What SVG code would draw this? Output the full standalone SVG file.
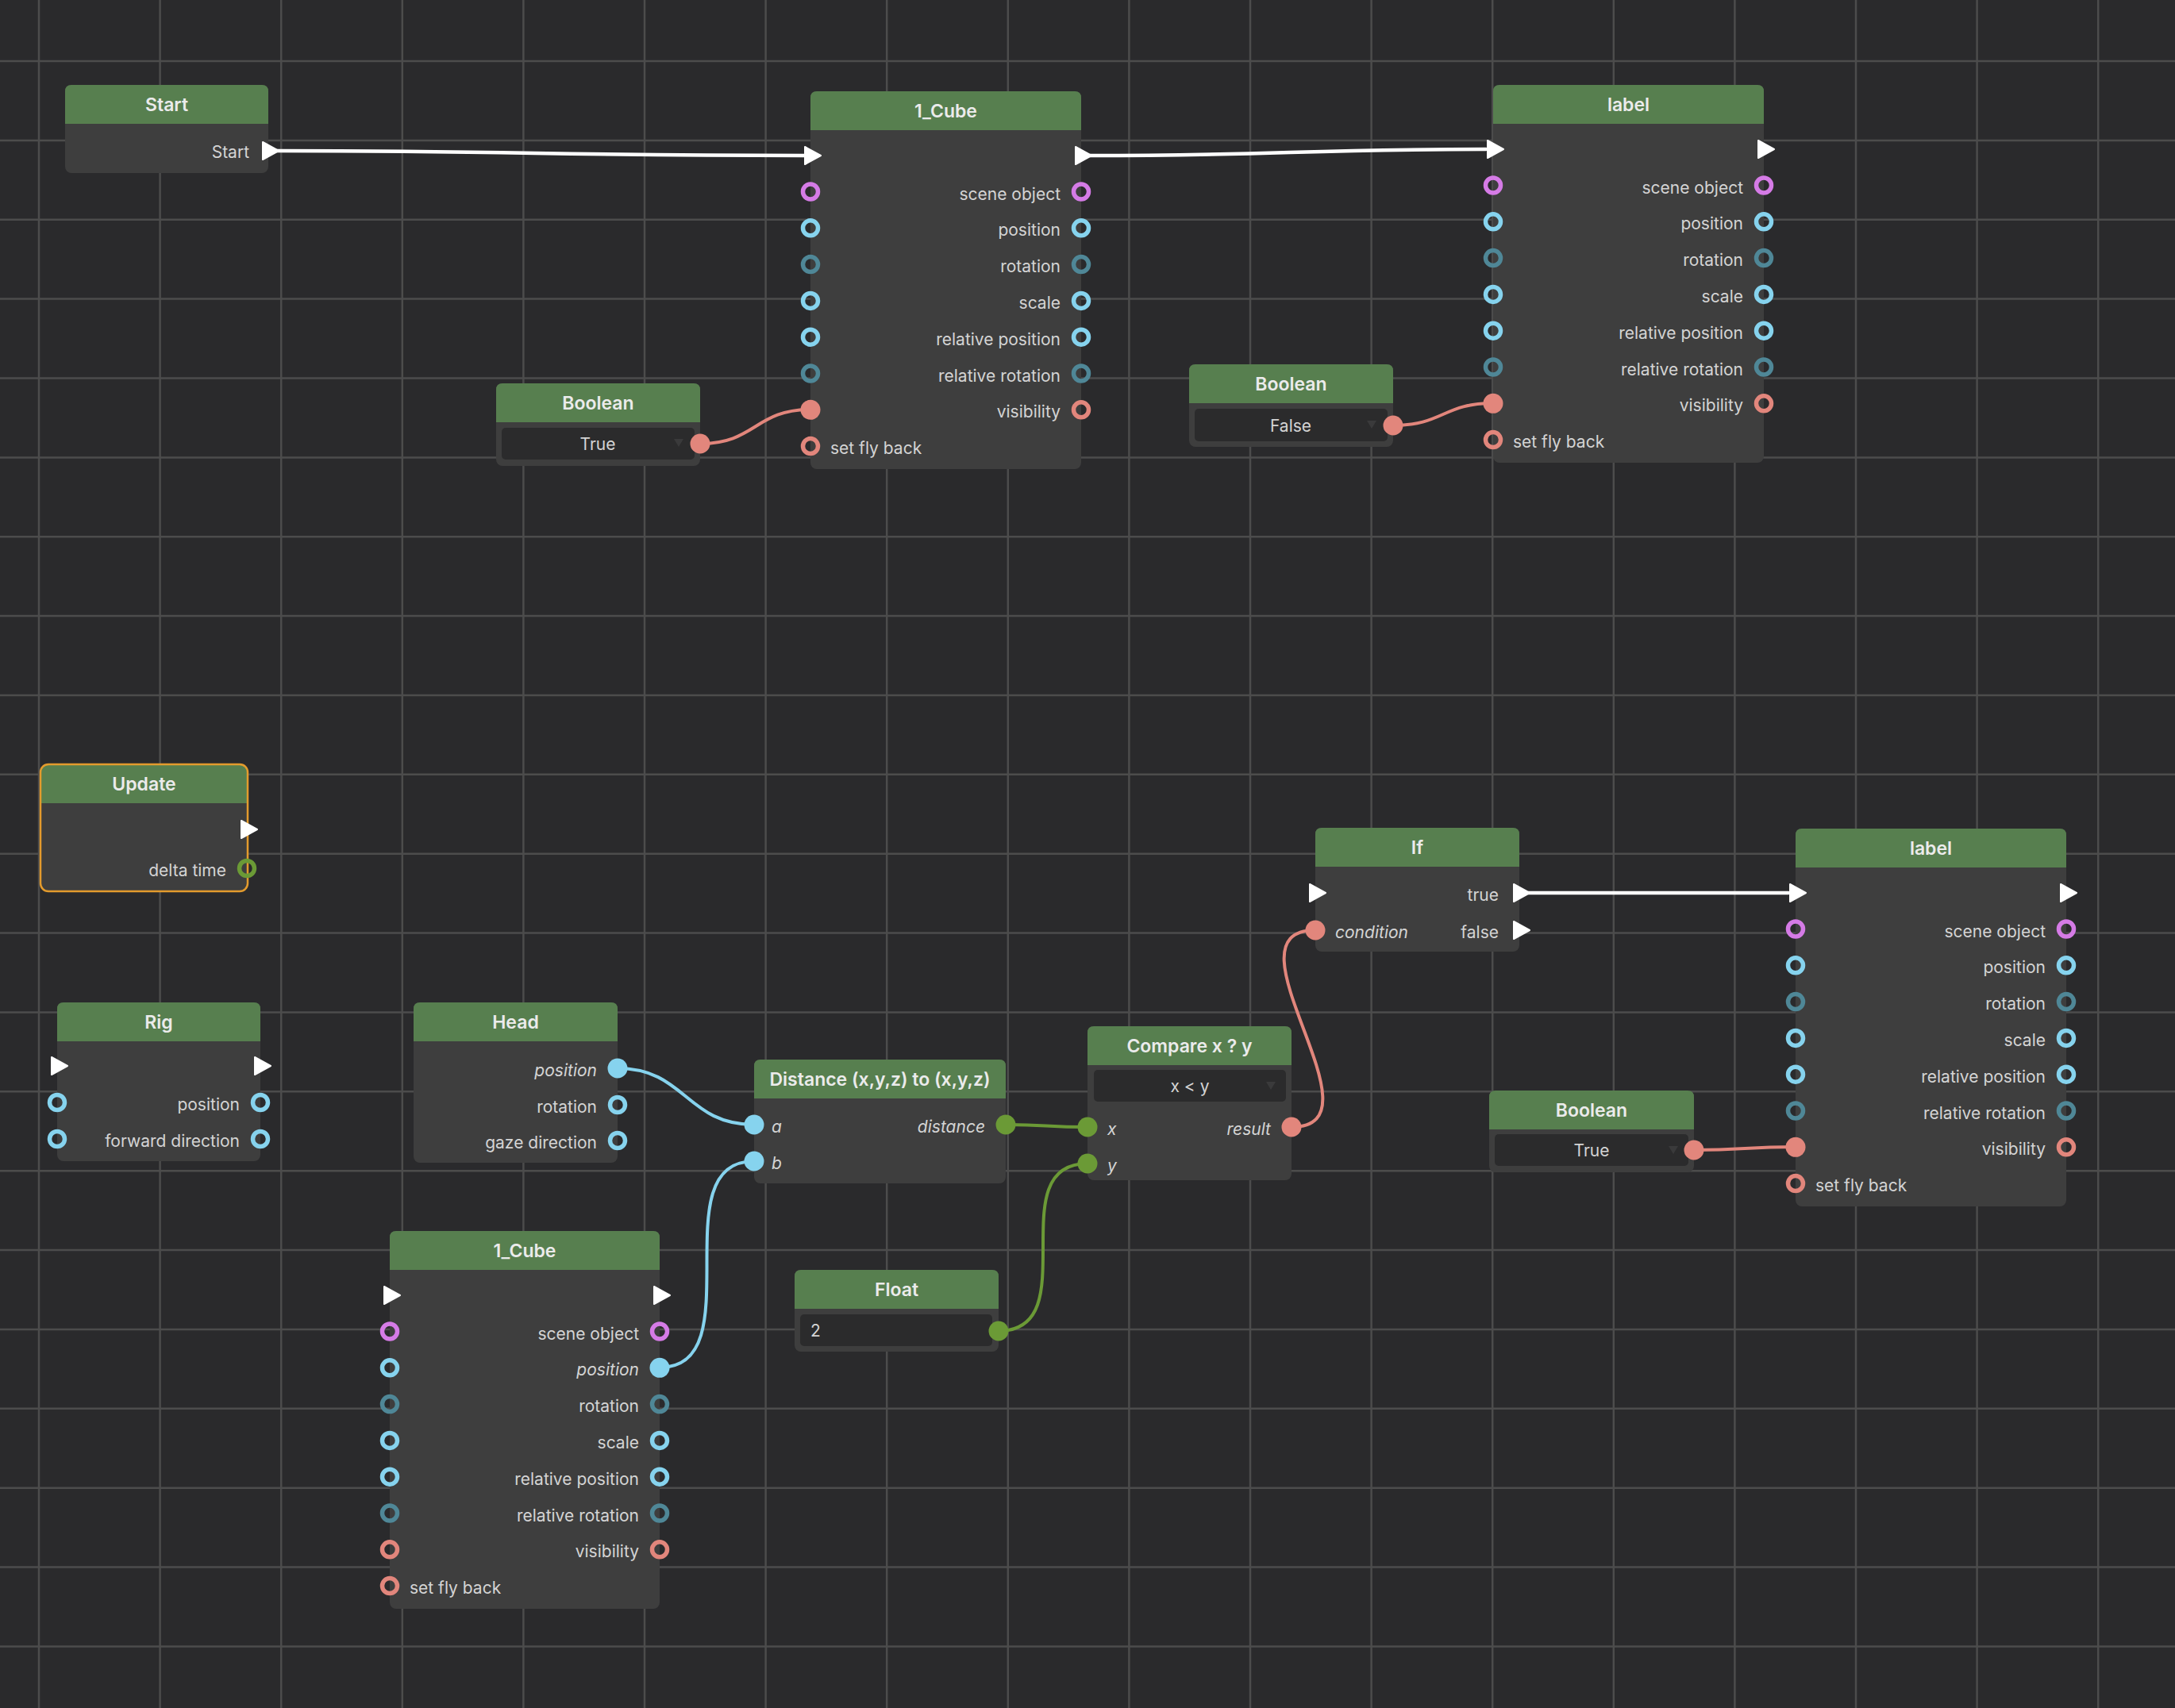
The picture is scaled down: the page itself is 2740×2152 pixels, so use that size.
<svg xmlns="http://www.w3.org/2000/svg" xmlns:xlink="http://www.w3.org/1999/xlink" width="2740" height="2152" viewBox="0 0 2740 2152">
<style>
.bg{fill:#2a2a2c}
.grid{stroke:#4c4c4c;stroke-width:2.5;fill:none}
.body{fill:#3e3e3e}
.hdr{fill:#577f4f}
.ht{font-family:Inter,"Liberation Sans",sans-serif;font-weight:600;font-size:23px;fill:#ebebeb;text-anchor:middle}
.t{font-family:Inter,"Liberation Sans",sans-serif;font-size:21px;fill:#d4d4d4}
.e{text-anchor:end}
.m{text-anchor:middle}
.i{font-style:italic}
.box{fill:#2b2b2c}
.dd{fill:#3a3a3b}
.ring{fill:none;stroke-width:5.5}
.pu{stroke:#d57be6}.lb{stroke:#86d3ee}.tl{stroke:#4f8797}.sa{stroke:#e2867c}.gr{stroke:#6b9a36}
.fpu{fill:#d57be6}.flb{fill:#86d3ee}.ftl{fill:#4f8797}.fsa{fill:#e2867c}.fgr{fill:#6b9a36}
.wire{fill:none;stroke-width:4;stroke-linecap:round}
.exw{fill:none;stroke:#ffffff;stroke-width:4.5;stroke-linecap:round}
.sel{fill:none;stroke:#e39b2d;stroke-width:2.5}
</style>
<defs>
<path id="tri" d="M-9,-11 L11,0 L-9,11 Z" fill="#ffffff" stroke="#ffffff" stroke-width="2" stroke-linejoin="round"/>
</defs>
<rect class="bg" x="0" y="0" width="2740" height="2152"/>
<g id="grid">
<path class="grid" d="M49 0V2152M201.6 0V2152M354.2 0V2152M506.8 0V2152M659.4 0V2152M812 0V2152M964.6 0V2152M1117.2 0V2152M1269.8 0V2152M1422.4 0V2152M1575 0V2152M1727.6 0V2152M1880.2 0V2152M2032.8 0V2152M2185.4 0V2152M2338 0V2152M2490.6 0V2152M2643.2 0V2152"/>
<path class="grid" d="M0 77H2740M0 176.9H2740M0 276.7H2740M0 376.6H2740M0 476.5H2740M0 576.4H2740M0 676.2H2740M0 776.1H2740M0 876H2740M0 975.8H2740M0 1075.7H2740M0 1175.6H2740M0 1275.4H2740M0 1375.3H2740M0 1475.2H2740M0 1575.1H2740M0 1674.9H2740M0 1774.8H2740M0 1874.7H2740M0 1974.5H2740M0 2074.4H2740"/>
</g>
<g id="connectors">
<path class="exw" d="M348 190 C650 190 700 196 1013 196"/>
<path class="exw" d="M1373 196 C1600 196 1650 188 1872 188"/>
<path class="exw" d="M1925 1125 C2100 1125 2080 1125 2253 1125"/>
<path class="wire sa" d="M882 559 C952 559 951 516 1021 516"/>
<path class="wire sa" d="M1755 536 C1818 536 1818 508 1881 508"/>
<path class="wire sa" d="M2134 1449 C2198 1449 2198 1445 2262 1445"/>
<path class="wire lb" d="M778 1346 C864 1346 864 1417 950 1417"/>
<path class="wire lb" d="M831 1723 C950 1723 831 1463 950 1463"/>
<path class="wire gr" d="M1267 1417 C1318 1417 1318 1420 1370 1420"/>
<path class="wire gr" d="M1258 1677 C1370 1677 1258 1466 1370 1466"/>
<path class="wire sa" d="M1627 1420 C1750 1420 1534 1172 1657 1172"/>
</g>
<g id="node-start">
<rect class="body" x="82" y="107" width="256" height="111" rx="8"/>
<path class="hdr" d="M82,156 V115 Q82,107 90,107 H330 Q338,107 338,115 V156 Z"/>
<text class="ht" x="210" y="140">Start</text>
<text class="t e" x="314" y="199">Start</text>
<use href="#tri" x="340" y="190"/>
</g>
<g id="node-cube-1">
<rect class="body" x="1021" y="115" width="341" height="476" rx="8"/>
<path class="hdr" d="M1021,164 V123 Q1021,115 1029,115 H1354 Q1362,115 1362,123 V164 Z"/>
<text class="ht" x="1191.5" y="148">1_Cube</text>
<use href="#tri" x="1023" y="196"/>
<use href="#tri" x="1364" y="196"/>
<text class="t e" x="1336" y="251.5">scene object</text>
<text class="t e" x="1336" y="297.3">position</text>
<text class="t e" x="1336" y="343.1">rotation</text>
<text class="t e" x="1336" y="388.9">scale</text>
<text class="t e" x="1336" y="434.7">relative position</text>
<text class="t e" x="1336" y="480.5">relative rotation</text>
<text class="t e" x="1336" y="526.3">visibility</text>
<text class="t" x="1046" y="572.1">set fly back</text>
<circle class="ring pu" cx="1021" cy="241.5" r="9.5"/><circle class="ring pu" cx="1362" cy="241.5" r="9.5"/>
<circle class="ring lb" cx="1021" cy="287.3" r="9.5"/><circle class="ring lb" cx="1362" cy="287.3" r="9.5"/>
<circle class="ring tl" cx="1021" cy="333.1" r="9.5"/><circle class="ring tl" cx="1362" cy="333.1" r="9.5"/>
<circle class="ring lb" cx="1021" cy="378.9" r="9.5"/><circle class="ring lb" cx="1362" cy="378.9" r="9.5"/>
<circle class="ring lb" cx="1021" cy="424.7" r="9.5"/><circle class="ring lb" cx="1362" cy="424.7" r="9.5"/>
<circle class="ring tl" cx="1021" cy="470.5" r="9.5"/><circle class="ring tl" cx="1362" cy="470.5" r="9.5"/>
<circle class="fsa" cx="1021" cy="516.3" r="12.5"/><circle class="ring sa" cx="1362" cy="516.3" r="9.5"/>
<circle class="ring sa" cx="1021" cy="562.1" r="9.5"/>
</g>
<g id="node-label-1">
<rect class="body" x="1881" y="107" width="341" height="476" rx="8"/>
<path class="hdr" d="M1881,156 V115 Q1881,107 1889,107 H2214 Q2222,107 2222,115 V156 Z"/>
<text class="ht" x="2051.5" y="140">label</text>
<use href="#tri" x="1883" y="188"/>
<use href="#tri" x="2224" y="188"/>
<text class="t e" x="2196" y="243.5">scene object</text>
<text class="t e" x="2196" y="289.3">position</text>
<text class="t e" x="2196" y="335.1">rotation</text>
<text class="t e" x="2196" y="380.9">scale</text>
<text class="t e" x="2196" y="426.7">relative position</text>
<text class="t e" x="2196" y="472.5">relative rotation</text>
<text class="t e" x="2196" y="518.3">visibility</text>
<text class="t" x="1906" y="564.1">set fly back</text>
<circle class="ring pu" cx="1881" cy="233.5" r="9.5"/><circle class="ring pu" cx="2222" cy="233.5" r="9.5"/>
<circle class="ring lb" cx="1881" cy="279.3" r="9.5"/><circle class="ring lb" cx="2222" cy="279.3" r="9.5"/>
<circle class="ring tl" cx="1881" cy="325.1" r="9.5"/><circle class="ring tl" cx="2222" cy="325.1" r="9.5"/>
<circle class="ring lb" cx="1881" cy="370.9" r="9.5"/><circle class="ring lb" cx="2222" cy="370.9" r="9.5"/>
<circle class="ring lb" cx="1881" cy="416.7" r="9.5"/><circle class="ring lb" cx="2222" cy="416.7" r="9.5"/>
<circle class="ring tl" cx="1881" cy="462.5" r="9.5"/><circle class="ring tl" cx="2222" cy="462.5" r="9.5"/>
<circle class="fsa" cx="1881" cy="508.3" r="12.5"/><circle class="ring sa" cx="2222" cy="508.3" r="9.5"/>
<circle class="ring sa" cx="1881" cy="554.1" r="9.5"/>
</g>
<g id="node-boolean-1">
<rect class="body" x="625" y="483" width="257" height="104" rx="8"/>
<path class="hdr" d="M625,532 V491 Q625,483 633,483 H874 Q882,483 882,491 V532 Z"/>
<text class="ht" x="753.5" y="516">Boolean</text>
<rect class="box" x="632" y="539" width="243" height="40" rx="5"/>
<path class="dd" d="M849,553 H861 L855,563 Z"/>
<text class="t m" x="753" y="566.5">True</text>
<circle class="fsa" cx="882" cy="559" r="12.5"/>
</g>
<g id="node-boolean-2">
<rect class="body" x="1498" y="459" width="257" height="104" rx="8"/>
<path class="hdr" d="M1498,508 V467 Q1498,459 1506,459 H1747 Q1755,459 1755,467 V508 Z"/>
<text class="ht" x="1626.5" y="492">Boolean</text>
<rect class="box" x="1505" y="515" width="243" height="41" rx="5"/>
<path class="dd" d="M1722,530 H1734 L1728,540 Z"/>
<text class="t m" x="1626" y="543.5">False</text>
<circle class="fsa" cx="1755" cy="536" r="12.5"/>
</g>
<g id="node-update">
<rect class="body" x="51" y="963" width="261" height="160" rx="10"/>
<path class="hdr" d="M51,1012 V973 Q51,963 61,963 H302 Q312,963 312,973 V1012 Z"/>
<rect class="sel" x="51" y="963" width="261" height="160" rx="10"/>
<text class="ht" x="181.5" y="996">Update</text>
<use href="#tri" x="313" y="1045"/>
<text class="t e" x="285" y="1103.5">delta time</text>
<circle class="ring gr" cx="311" cy="1094" r="9.5"/>
</g>
<g id="node-rig">
<rect class="body" x="72" y="1263" width="256" height="200" rx="8"/>
<path class="hdr" d="M72,1312 V1271 Q72,1263 80,1263 H320 Q328,1263 328,1271 V1312 Z"/>
<text class="ht" x="200" y="1296">Rig</text>
<use href="#tri" x="74" y="1343"/>
<use href="#tri" x="330" y="1343"/>
<text class="t e" x="302" y="1399">position</text>
<text class="t e" x="302" y="1445">forward direction</text>
<circle class="ring lb" cx="72" cy="1389" r="9.5"/><circle class="ring lb" cx="328" cy="1389" r="9.5"/>
<circle class="ring lb" cx="72" cy="1435" r="9.5"/><circle class="ring lb" cx="328" cy="1435" r="9.5"/>
</g>
<g id="node-head">
<rect class="body" x="521" y="1263" width="257" height="202" rx="8"/>
<path class="hdr" d="M521,1312 V1271 Q521,1263 529,1263 H770 Q778,1263 778,1271 V1312 Z"/>
<text class="ht" x="649.5" y="1296">Head</text>
<text class="t e i" x="752" y="1355.5">position</text>
<text class="t e" x="752" y="1401.5">rotation</text>
<text class="t e" x="752" y="1446.5">gaze direction</text>
<circle class="flb" cx="778" cy="1346" r="12.5"/>
<circle class="ring lb" cx="778" cy="1392" r="9.5"/>
<circle class="ring lb" cx="778" cy="1437" r="9.5"/>
</g>
<g id="node-distance">
<rect class="body" x="950" y="1335" width="317" height="156" rx="8"/>
<path class="hdr" d="M950,1384 V1343 Q950,1335 958,1335 H1259 Q1267,1335 1267,1343 V1384 Z"/>
<text class="ht" x="1108.5" y="1368">Distance (x,y,z) to (x,y,z)</text>
<text class="t i" x="972" y="1426.5">a</text>
<text class="t i" x="972" y="1472.5">b</text>
<text class="t e i" x="1241" y="1426.5">distance</text>
<circle class="flb" cx="950" cy="1417" r="12.5"/>
<circle class="flb" cx="950" cy="1463" r="12.5"/>
<circle class="fgr" cx="1267" cy="1417" r="12.5"/>
</g>
<g id="node-compare">
<rect class="body" x="1370" y="1293" width="257" height="194" rx="8"/>
<path class="hdr" d="M1370,1342 V1301 Q1370,1293 1378,1293 H1619 Q1627,1293 1627,1301 V1342 Z"/>
<text class="ht" x="1498.5" y="1326">Compare x ? y</text>
<rect class="box" x="1378" y="1348" width="242" height="40" rx="5"/>
<path class="dd" d="M1595,1363 H1607 L1601,1373 Z"/>
<text class="t m" x="1499" y="1375.5">x &lt; y</text>
<text class="t i" x="1395" y="1429.5">x</text>
<text class="t i" x="1395" y="1475.5">y</text>
<text class="t e i" x="1601" y="1429.5">result</text>
<circle class="fgr" cx="1370" cy="1420" r="12.5"/>
<circle class="fgr" cx="1370" cy="1466" r="12.5"/>
<circle class="fsa" cx="1627" cy="1420" r="12.5"/>
</g>
<g id="node-if">
<rect class="body" x="1657" y="1043" width="257" height="156" rx="8"/>
<path class="hdr" d="M1657,1092 V1051 Q1657,1043 1665,1043 H1906 Q1914,1043 1914,1051 V1092 Z"/>
<text class="ht" x="1785.5" y="1076">If</text>
<use href="#tri" x="1659" y="1125"/>
<text class="t e" x="1888" y="1134.5">true</text>
<use href="#tri" x="1916" y="1125"/>
<text class="t i" x="1682" y="1181.5">condition</text>
<text class="t e" x="1888" y="1181.5">false</text>
<use href="#tri" x="1916" y="1172"/>
<circle class="fsa" cx="1657" cy="1172" r="12.5"/>
</g>
<g id="node-label-2">
<rect class="body" x="2262" y="1044" width="341" height="476" rx="8"/>
<path class="hdr" d="M2262,1093 V1052 Q2262,1044 2270,1044 H2595 Q2603,1044 2603,1052 V1093 Z"/>
<text class="ht" x="2432.5" y="1077">label</text>
<use href="#tri" x="2264" y="1125"/>
<use href="#tri" x="2605" y="1125"/>
<text class="t e" x="2577" y="1180.5">scene object</text>
<text class="t e" x="2577" y="1226.3">position</text>
<text class="t e" x="2577" y="1272.1">rotation</text>
<text class="t e" x="2577" y="1317.9">scale</text>
<text class="t e" x="2577" y="1363.7">relative position</text>
<text class="t e" x="2577" y="1409.5">relative rotation</text>
<text class="t e" x="2577" y="1455.3">visibility</text>
<text class="t" x="2287" y="1501.1">set fly back</text>
<circle class="ring pu" cx="2262" cy="1170.5" r="9.5"/><circle class="ring pu" cx="2603" cy="1170.5" r="9.5"/>
<circle class="ring lb" cx="2262" cy="1216.3" r="9.5"/><circle class="ring lb" cx="2603" cy="1216.3" r="9.5"/>
<circle class="ring tl" cx="2262" cy="1262.1" r="9.5"/><circle class="ring tl" cx="2603" cy="1262.1" r="9.5"/>
<circle class="ring lb" cx="2262" cy="1307.9" r="9.5"/><circle class="ring lb" cx="2603" cy="1307.9" r="9.5"/>
<circle class="ring lb" cx="2262" cy="1353.7" r="9.5"/><circle class="ring lb" cx="2603" cy="1353.7" r="9.5"/>
<circle class="ring tl" cx="2262" cy="1399.5" r="9.5"/><circle class="ring tl" cx="2603" cy="1399.5" r="9.5"/>
<circle class="fsa" cx="2262" cy="1445.3" r="12.5"/><circle class="ring sa" cx="2603" cy="1445.3" r="9.5"/>
<circle class="ring sa" cx="2262" cy="1491.1" r="9.5"/>
</g>
<g id="node-boolean-3">
<rect class="body" x="1876" y="1374" width="258" height="103" rx="8"/>
<path class="hdr" d="M1876,1423 V1382 Q1876,1374 1884,1374 H2126 Q2134,1374 2134,1382 V1423 Z"/>
<text class="ht" x="2005" y="1407">Boolean</text>
<rect class="box" x="1883" y="1429" width="244" height="40" rx="5"/>
<path class="dd" d="M2102,1444 H2114 L2108,1454 Z"/>
<text class="t m" x="2005" y="1456.5">True</text>
<circle class="fsa" cx="2134" cy="1449" r="12.5"/>
</g>
<g id="node-cube-2">
<rect class="body" x="491" y="1551" width="340" height="476" rx="8"/>
<path class="hdr" d="M491,1600 V1559 Q491,1551 499,1551 H823 Q831,1551 831,1559 V1600 Z"/>
<text class="ht" x="661" y="1584">1_Cube</text>
<use href="#tri" x="493" y="1632"/>
<use href="#tri" x="833" y="1632"/>
<text class="t e" x="805" y="1687.5">scene object</text>
<text class="t e i" x="805" y="1733.3">position</text>
<text class="t e" x="805" y="1779.1">rotation</text>
<text class="t e" x="805" y="1824.9">scale</text>
<text class="t e" x="805" y="1870.7">relative position</text>
<text class="t e" x="805" y="1916.5">relative rotation</text>
<text class="t e" x="805" y="1962.3">visibility</text>
<text class="t" x="516" y="2008.1">set fly back</text>
<circle class="ring pu" cx="491" cy="1677.5" r="9.5"/><circle class="ring pu" cx="831" cy="1677.5" r="9.5"/>
<circle class="ring lb" cx="491" cy="1723.3" r="9.5"/><circle class="flb" cx="831" cy="1723.3" r="12.5"/>
<circle class="ring tl" cx="491" cy="1769.1" r="9.5"/><circle class="ring tl" cx="831" cy="1769.1" r="9.5"/>
<circle class="ring lb" cx="491" cy="1814.9" r="9.5"/><circle class="ring lb" cx="831" cy="1814.9" r="9.5"/>
<circle class="ring lb" cx="491" cy="1860.7" r="9.5"/><circle class="ring lb" cx="831" cy="1860.7" r="9.5"/>
<circle class="ring tl" cx="491" cy="1906.5" r="9.5"/><circle class="ring tl" cx="831" cy="1906.5" r="9.5"/>
<circle class="ring sa" cx="491" cy="1952.3" r="9.5"/><circle class="ring sa" cx="831" cy="1952.3" r="9.5"/>
<circle class="ring sa" cx="491" cy="1998.1" r="9.5"/>
</g>
<g id="node-float">
<rect class="body" x="1001" y="1600" width="257" height="103" rx="8"/>
<path class="hdr" d="M1001,1649 V1608 Q1001,1600 1009,1600 H1250 Q1258,1600 1258,1608 V1649 Z"/>
<text class="ht" x="1129.5" y="1633">Float</text>
<rect class="box" x="1008" y="1656" width="242" height="40" rx="5"/>
<text class="t" x="1021" y="1684">2</text>
<circle class="fgr" cx="1258" cy="1677" r="12.5"/>
</g>
</svg>
